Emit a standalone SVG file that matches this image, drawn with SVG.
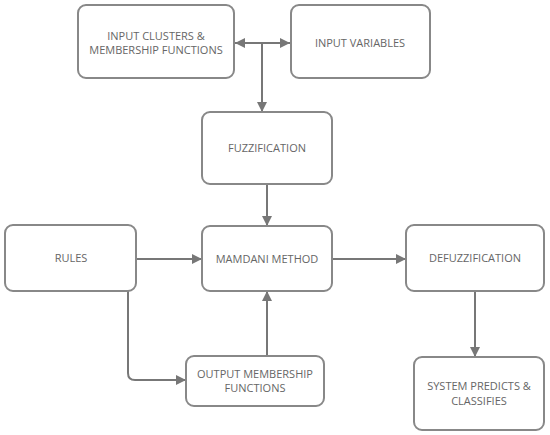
<svg xmlns="http://www.w3.org/2000/svg" width="550" height="435" viewBox="0 0 550 435">
<defs>
<marker id="ah" viewBox="0 0 10 10" refX="10" refY="5" markerWidth="10" markerHeight="10" markerUnits="userSpaceOnUse" orient="auto-start-reverse">
<path d="M0,0 L10,5 L0,10 Z" fill="#777"/>
</marker>
<style>
.box{fill:#fff;stroke:#888;stroke-width:2}
.t{font-family:"Open Sans","Liberation Sans",sans-serif;font-size:11px;fill:#666;text-anchor:middle}
.c{fill:none;stroke:#777;stroke-width:2}
</style>
</defs>
<rect width="550" height="435" fill="#fff"/>
<g id="connectors">
<path class="c" d="M235,43 H290" marker-start="url(#ah)" marker-end="url(#ah)"/>
<path class="c" d="M262,43 V112" marker-end="url(#ah)"/>
<path class="c" d="M267,184 V226" marker-end="url(#ah)"/>
<path class="c" d="M136,259 H202" marker-end="url(#ah)"/>
<path class="c" d="M332,259 H406" marker-end="url(#ah)"/>
<path class="c" d="M475,291 V357" marker-end="url(#ah)"/>
<path class="c" d="M267,357 V291" marker-end="url(#ah)"/>
<path class="c" d="M128,291 V373 Q128,380 135,380 H186" marker-end="url(#ah)"/>
</g>
<g id="input-clusters">
<rect class="box" x="78" y="5" width="156" height="73" rx="8"/>
<text class="t" x="156" y="40">INPUT CLUSTERS &amp;</text>
<text class="t" x="156" y="54">MEMBERSHIP FUNCTIONS</text>
</g>
<g id="input-variables">
<rect class="box" x="291" y="5" width="139" height="73" rx="8"/>
<text class="t" x="360" y="47">INPUT VARIABLES</text>
</g>
<g id="fuzzification">
<rect class="box" x="202" y="112" width="130" height="72" rx="8"/>
<text class="t" x="267" y="152">FUZZIFICATION</text>
</g>
<g id="mamdani">
<rect class="box" x="202" y="226" width="130" height="65" rx="8"/>
<text class="t" x="267" y="263">MAMDANI METHOD</text>
</g>
<g id="rules">
<rect class="box" x="5" y="225" width="131" height="66" rx="8"/>
<text class="t" x="71" y="262">RULES</text>
</g>
<g id="defuzzification">
<rect class="box" x="406" y="225" width="138" height="66" rx="8"/>
<text class="t" x="475" y="262">DEFUZZIFICATION</text>
</g>
<g id="output-membership">
<rect class="box" x="186" y="356" width="138" height="50" rx="8"/>
<text class="t" x="255" y="378">OUTPUT MEMBERSHIP</text>
<text class="t" x="255" y="392">FUNCTIONS</text>
</g>
<g id="system-predicts">
<rect class="box" x="414" y="357" width="130" height="73" rx="8"/>
<text class="t" x="479" y="390">SYSTEM PREDICTS &amp;</text>
<text class="t" x="479" y="405">CLASSIFIES</text>
</g>
</svg>
